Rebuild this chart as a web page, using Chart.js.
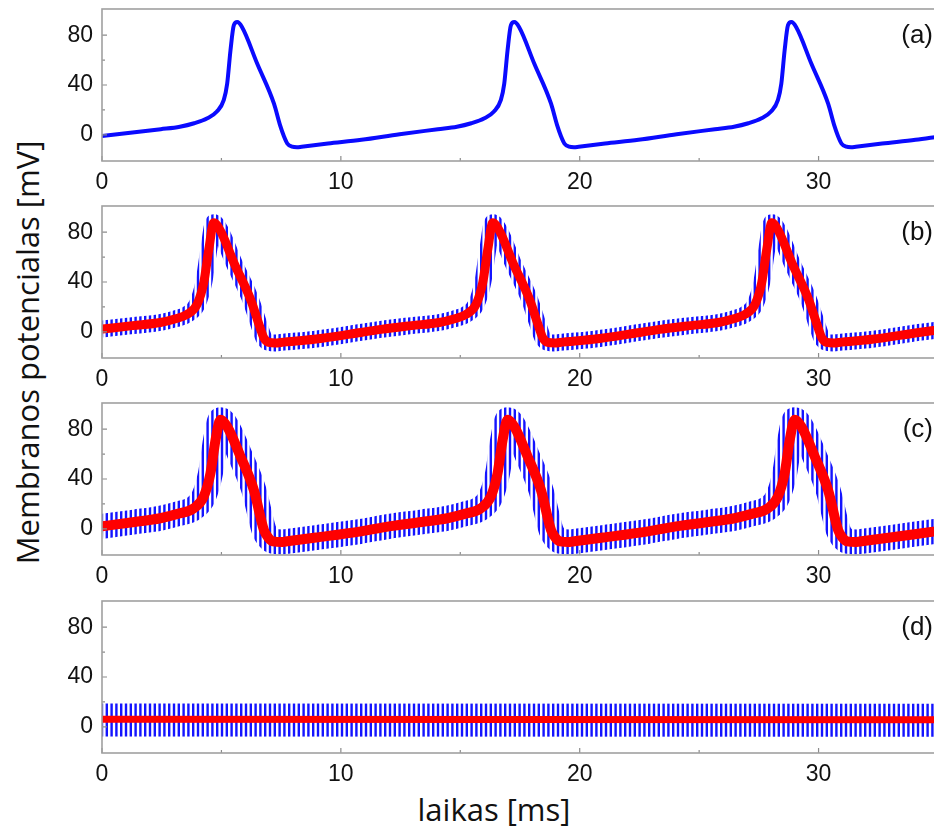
<!DOCTYPE html>
<html><head><meta charset="utf-8">
<script src="https://cdn.jsdelivr.net/npm/chart.js@4.4.1/dist/chart.umd.min.js"></script>
<style>
html,body{margin:0;padding:0;width:934px;height:829px;overflow:hidden;background:#fff;}
.panel{position:absolute;left:0;width:950px;height:192px;}
.plabel{position:absolute;right:1px;font-family:"Liberation Sans",Arial,sans-serif;font-size:26px;line-height:26px;color:#111;}
#ytitle{position:absolute;left:27px;top:352px;width:440px;height:31px;margin-left:-220px;margin-top:-15.5px;transform:rotate(-90deg);text-align:center;font-family:"Open Sans",sans-serif;font-size:31px;line-height:31px;color:#111;white-space:nowrap;}
#xtitle{position:absolute;left:494px;top:794px;width:300px;margin-left:-150px;text-align:center;font-family:"Open Sans",sans-serif;font-size:31px;line-height:31px;color:#111;white-space:nowrap;}
</style></head><body>
<div id="ytitle">Membranos potencialas [mV]</div>
<div id="xtitle">laikas [ms]</div>
<script>
// ---- axis ticks ----
const xTicks=[0,10,20,30];
const xMinorTicks=[5,15,25,35];
const yTicks=[0,40,80];
const yMinorTicks=[20,60];
const panelLabels=['(a)','(b)','(c)','(d)'];

// ---- panel (a): membrane potential, no stimulus ----
const aTime=[0,2.46,3.26,3.86,4.41,4.81,5.10,5.24,5.38,5.52,5.66,5.86,6.50,7.20,7.45,7.62,7.76,7.96,8.16,8.36,9.46,10.86,12.46,
 14.06,14.86,15.46,16.01,16.41,16.70,16.84,16.98,17.12,17.26,17.46,18.10,18.80,19.05,19.22,19.36,19.56,19.76,19.96,21.06,22.46,24.06,
 25.66,26.46,27.06,27.61,28.01,28.30,28.44,28.58,28.72,28.86,29.06,29.70,30.40,30.65,30.82,30.96,31.16,31.36,31.56,32.66,34.06,35];
const aVolt=[-1,4.5,6.5,9.3,13.3,18.7,28,41,68,88,90.5,86.5,57,25,8,-1.3,-7,-9.5,-10,-9.6,-7,-4,0.5,
 4.5,6.5,9.3,13.3,18.7,28,41,68,88,90.5,86.5,57,25,8,-1.3,-7,-9.5,-10,-9.6,-7,-4,0.5,
 4.5,6.5,9.3,13.3,18.7,28,41,68,88,90.5,86.5,57,25,8,-1.3,-7,-9.5,-10,-9.6,-7,-4,-1.5];

// ---- panel (b) ----
const bTime=[0,1.28,2.44,3.08,3.56,3.98,4.26,4.47,4.68,4.96,5.52,6.22,6.64,6.78,6.98,7.28,7.48,8.88,10.84,11.68,
 12.96,14.12,14.76,15.24,15.66,15.94,16.15,16.36,16.64,17.20,17.90,18.32,18.46,18.66,18.96,19.16,20.56,22.52,23.36,
 24.64,25.80,26.44,26.92,27.34,27.62,27.83,28.04,28.32,28.88,29.58,30.00,30.14,30.34,30.64,30.84,32.24,34.20,35];
const bVolt=[2.2,5,7.5,10.5,14,22,39.5,66,87.5,81,55.5,26,2,-5,-8.5,-9,-8.5,-6,-0.5,2,
 5,7.5,10.5,14,22,39.5,66,87.5,81,55.5,26,2,-5,-8.5,-9,-8.5,-6,-0.5,2,
 5,7.5,10.5,14,22,39.5,66,87.5,81,55.5,26,2,-5,-8.5,-9,-8.5,-6,-0.5,1.5];
const bNoise=6.8;   // half-height of the blue oscillation (mV)

// ---- panel (c) ----
const cTime=[0,1.36,2.44,3.16,3.84,4.26,4.54,4.75,4.96,5.24,5.80,6.36,6.78,6.96,7.16,7.56,7.76,8.96,10.84,12.02,
 13.38,14.46,15.18,15.86,16.28,16.56,16.77,16.98,17.26,17.82,18.38,18.80,18.98,19.18,19.58,19.78,20.98,22.86,24.04,
 25.40,26.48,27.20,27.88,28.30,28.58,28.79,29.00,29.28,29.84,30.40,30.82,31.00,31.20,31.60,31.80,33.00,34.88,35];
const cVolt=[2,5.5,8.5,12,16.5,26,44.5,71,87.5,82,58,31,-1,-7,-10,-10.5,-10,-7,-2,2,
 5.5,8.5,12,16.5,26,44.5,71,87.5,82,58,31,-1,-7,-10,-10.5,-10,-7,-2,2,
 5.5,8.5,12,16.5,26,44.5,71,87.5,82,58,31,-1,-7,-10,-10.5,-10,-7,-2,-1.7];
const cNoise=10;

// ---- panel (d) ----
const dTime=[0,35];
const dRed=[6,5.6];
const dBlue=[5.5,5.3];
const dNoise=13.3;

// ---------------------------------------------------------------
const FONT='"Liberation Sans", Arial, sans-serif';
function pts(t,v){return t.map((x,i)=>({x:x,y:v[i]}));}
function stripes(){
  const c=document.createElement('canvas');c.width=24;c.height=4;
  const g=c.getContext('2d');g.fillStyle='rgb(20,20,255)';
  for(let i=0;i<5;i++)g.fillRect(i*4.8,0,2.4,4);
  return g.createPattern(c,'repeat');
}
const pattern=stripes();
function bandWidth(amp){return ctx=>{const s=ctx.chart.scales.y;return Math.abs(s.getPixelForValue(amp)-s.getPixelForValue(0))*2;};}

const framePlugin={id:'frame',afterDatasetsDraw(chart){
  const {ctx,chartArea:a,scales:{x,y}}=chart;
  ctx.save();
  ctx.strokeStyle='#8c8c8c';ctx.lineWidth=1.2;ctx.beginPath();
  xTicks.forEach(v=>{const p=x.getPixelForValue(v);ctx.moveTo(p,a.bottom);ctx.lineTo(p,a.bottom-5);});
  xMinorTicks.forEach(v=>{const p=x.getPixelForValue(v);ctx.moveTo(p,a.bottom);ctx.lineTo(p,a.bottom-3);});
  yTicks.forEach(v=>{const p=y.getPixelForValue(v);ctx.moveTo(a.left,p);ctx.lineTo(a.left+5,p);});
  yMinorTicks.forEach(v=>{const p=y.getPixelForValue(v);ctx.moveTo(a.left,p);ctx.lineTo(a.left+3,p);});
  ctx.stroke();
  ctx.strokeStyle='#a0a0a0';ctx.lineWidth=1.6;
  ctx.strokeRect(a.left,a.top,a.right-a.left,a.bottom-a.top);
  ctx.restore();
}};

const areaTops=[9,206,403,601];
const panelSets=[
  [{data:pts(aTime,aVolt),borderColor:'rgb(10,10,255)',borderWidth:4}],
  [{data:pts(bTime,bVolt),borderColor:'rgb(255,0,0)',borderWidth:9},
   {data:pts(bTime,bVolt),borderColor:pattern,borderWidth:bandWidth(bNoise)}],
  [{data:pts(cTime,cVolt),borderColor:'rgb(255,0,0)',borderWidth:10},
   {data:pts(cTime,cVolt),borderColor:pattern,borderWidth:bandWidth(cNoise)}],
  [{data:pts(dTime,dRed),borderColor:'rgb(255,0,0)',borderWidth:7},
   {data:pts(dTime,dBlue),borderColor:pattern,borderWidth:bandWidth(dNoise)}]
];

function noPad(s){s.paddingTop=0;s.paddingBottom=0;s.paddingLeft=0;s.paddingRight=0;}

panelSets.forEach((sets,i)=>{
  const div=document.createElement('div');div.className='panel';div.style.top=(areaTops[i]-6)+'px';
  const cv=document.createElement('canvas');cv.width=950;cv.height=192;div.appendChild(cv);
  document.body.appendChild(div);
  const lab=document.createElement('div');lab.className='plabel';lab.textContent=panelLabels[i];
  lab.style.top=(areaTops[i]+12)+'px';document.body.appendChild(lab);
  new Chart(cv,{type:'line',
    data:{datasets:sets.map(s=>Object.assign({pointRadius:0,fill:false,cubicInterpolationMode:'monotone',borderJoinStyle:'round',borderCapStyle:'butt',clip:0},s))},
    options:{responsive:false,animation:false,events:[],
      layout:{padding:{top:6,right:12,left:0,bottom:0}},
      plugins:{legend:{display:false},tooltip:{enabled:false}},
      scales:{
        x:{type:'linear',min:0,max:35,afterBuildTicks:s=>{s.ticks=xTicks.map(v=>({value:v}));},
           afterFit:s=>{s.height=34;noPad(s);},grid:{display:false,drawTicks:false},border:{display:false},
           ticks:{padding:8,maxRotation:0,color:'#111',font:{family:FONT,size:23}}},
        y:{type:'linear',min:-21,max:101,afterBuildTicks:s=>{s.ticks=yTicks.map(v=>({value:v}));},
           afterFit:s=>{s.width=102;noPad(s);},grid:{display:false,drawTicks:false},border:{display:false},
           ticks:{padding:9,color:'#111',font:{family:FONT,size:23}}}
      }},
    plugins:[framePlugin]});
});
</script>
</body></html>
